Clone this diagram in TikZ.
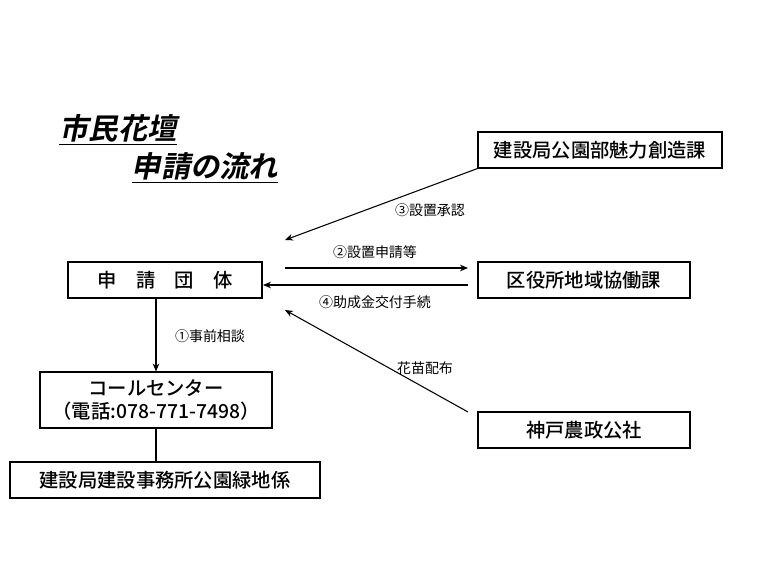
\documentclass[tikz,border=0pt]{standalone}
\usepackage{fontspec}
\setmainfont{Noto Sans CJK JP}
\newfontfamily\titlefont[FakeSlant=0.2]{Noto Sans CJK JP Bold}
\newfontfamily\boxfont{Noto Sans CJK JP Medium}
\usetikzlibrary{arrows.meta,positioning}
\tikzset{
  box/.style={draw, thick, inner sep=0pt, font=\boxfont\fontsize{14.5}{17}\selectfont},
  flow/.style={thick, -{Stealth[length=6pt,width=5pt]}},
  lbl/.style={font=\fontsize{10.5}{12}\selectfont}
}
\begin{document}
\begin{tikzpicture}[x=0.0264cm, y=-0.0264cm]
    \useasboundingbox (0,0) rectangle (760,570);

    % Title
    \node[font=\titlefont\fontsize{22}{24}\selectfont] (t1) at (118,130) {\underline{市民花壇}};
    \node[font=\titlefont\fontsize{22}{24}\selectfont] (t2) at (205,168) {\underline{申請の流れ}};

    % Boxes
    \node[box, minimum width=244*0.0264cm, minimum height=36*0.0264cm] (kouen) at (600,150) {建設局公園部魅力創造課};
    \node[box, minimum width=194*0.0264cm, minimum height=36*0.0264cm] (dantai) at (165,280) {申\quad 請\quad 団\quad 体};
    \node[box, minimum width=212*0.0264cm, minimum height=36*0.0264cm] (kuyaku) at (584,280) {区役所地域協働課};
    \node[box, minimum width=232*0.0264cm, minimum height=56*0.0264cm, align=center] (call) at (156,400) {コールセンター\\（電話:078-771-7498）};
    \node[box, minimum width=310*0.0264cm, minimum height=36*0.0264cm] (jimusho) at (165,480) {建設局建設事務所公園緑地係};
    \node[box, minimum width=212*0.0264cm, minimum height=36*0.0264cm] (nousei) at (584,430) {神戸農政公社};

    % Connectors
    \coordinate (a3) at (285,240);
    \coordinate (a2s) at (285,268);
    \coordinate (a2e) at (468,268);
    \coordinate (a4s) at (468,285);
    \coordinate (a4e) at (263,285);
    \coordinate (hs) at (468,412);
    \coordinate (he) at (285,310);
    \draw[flow] (kouen.south west) -- (a3);
    \draw[flow] (a2s) -- (a2e);
    \draw[flow] (a4s) -- (a4e);
    \draw[flow] (hs) -- (he);
    \draw[flow] (dantai.south -| call.north) -- (call.north);
    \draw[thick] (call.south) -- (call.south |- jimusho.north);

    % Labels
    \node[lbl] (l3) at (430,210) {③設置承認};
    \node[lbl] (l2) at (375,252) {②設置申請等};
    \node[lbl] (l4) at (375,302) {④助成金交付手続};
    \node[lbl] (lh) at (425,368) {花苗配布};
    \node[lbl] (l1) at (210,336) {①事前相談};
\end{tikzpicture}
\end{document}
